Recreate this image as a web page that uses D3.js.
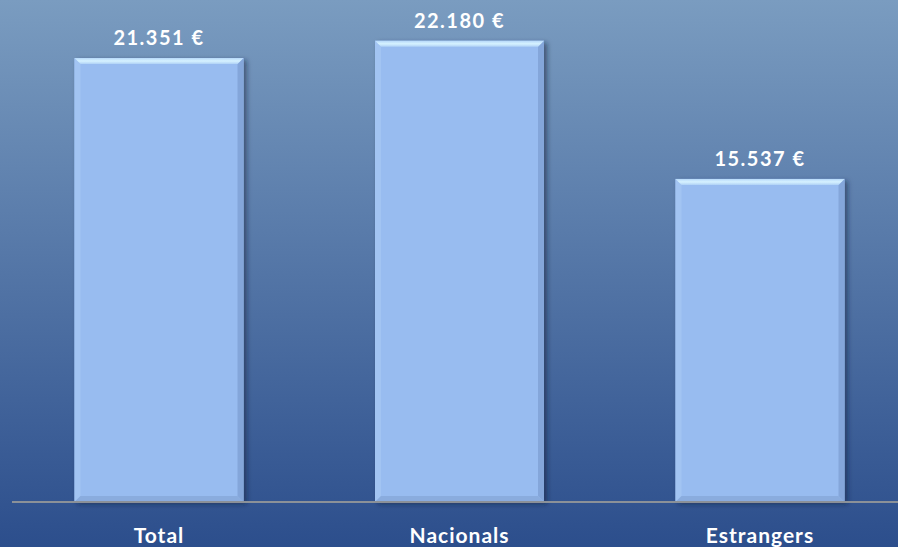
<!DOCTYPE html>
<html><head><meta charset="utf-8">
<script src="https://cdn.jsdelivr.net/npm/d3@7"></script>
<style>html,body{margin:0;padding:0;overflow:hidden;}svg{display:block;}</style>
</head><body>
<svg id="c" width="898" height="547"></svg>
<script>
const categories = ["Total", "Nacionals", "Estrangers"];
const values = [21351, 22180, 15537];
const valueLabels = ["21.351 €", "22.180 €", "15.537 €"];

const W = 898, H = 547;
const svg = d3.select("#c");
const defs = svg.append("defs");
const bg = defs.append("linearGradient").attr("id","bg").attr("x1",0).attr("y1",0).attr("x2",0).attr("y2",1);
bg.append("stop").attr("offset","0%").attr("stop-color","#7a9cc0");
bg.append("stop").attr("offset","100%").attr("stop-color","#2c4e8c");
const f = defs.append("filter").attr("id","sh").attr("x","-20%").attr("y","-20%").attr("width","140%").attr("height","140%");
f.append("feDropShadow").attr("dx",3).attr("dy",2).attr("stdDeviation",2.5).attr("flood-color","#0a1a3a").attr("flood-opacity",0.55);
const tg = defs.append("linearGradient").attr("id","tb").attr("x1",0).attr("y1",0).attr("x2",0).attr("y2",1);
tg.append("stop").attr("offset","0%").attr("stop-color","#b6d8fa");
tg.append("stop").attr("offset","50%").attr("stop-color","#d6f2ff");
tg.append("stop").attr("offset","100%").attr("stop-color","#b0d2f6");

svg.append("rect").attr("width",W).attr("height",H).attr("fill","url(#bg)");

const baseY = 502;
const x = d3.scaleBand().domain(categories).range([9, 910]).paddingInner(0.4376).paddingOuter(0.218);
const y = d3.scaleLinear().domain([0, 21351]).range([baseY, 58]);

const data = categories.map((c,i)=>({c, v: values[i], l: valueLabels[i]}));
const b = 6;
const g = svg.selectAll("g.bar").data(data).join("g").attr("class","bar");
g.append("rect").attr("x",d=>x(d.c)).attr("y",d=>y(d.v)).attr("width",x.bandwidth()).attr("height",d=>baseY-y(d.v))
  .attr("fill","#98bcf0").attr("filter","url(#sh)");
g.append("polygon").attr("points",d=>{const x0=x(d.c),y0=y(d.v);return [[x0,y0],[x0+b,y0+b],[x0+b,baseY-b],[x0,baseY]].join(" ");}).attr("fill","#a2c4f2");
g.append("polygon").attr("points",d=>{const x1=x(d.c)+x.bandwidth(),y0=y(d.v);return [[x1,y0],[x1-b,y0+b],[x1-b,baseY-b],[x1,baseY]].join(" ");}).attr("fill","#84a6da");
g.append("polygon").attr("points",d=>{const x0=x(d.c),x1=x0+x.bandwidth();return [[x0,baseY],[x0+b,baseY-b],[x1-b,baseY-b],[x1,baseY]].join(" ");}).attr("fill","#8aacde");
g.append("polygon").attr("points",d=>{const x0=x(d.c),x1=x0+x.bandwidth(),y0=y(d.v);return [[x0,y0],[x1,y0],[x1-b,y0+b],[x0+b,y0+b]].join(" ");}).attr("fill","url(#tb)");

svg.append("line").attr("x1",12).attr("x2",W).attr("y1",baseY).attr("y2",baseY).attr("stroke","#8b9198").attr("stroke-width",2);

g.append("text").attr("x",d=>x(d.c)+x.bandwidth()/2).attr("y",d=>y(d.v)-13).attr("text-anchor","middle")
  .attr("fill","#ffffff").attr("font-family","Lato, 'Open Sans', sans-serif").attr("font-weight","bold")
  .attr("font-size",20).attr("letter-spacing",1.5).text(d=>d.l);

g.append("text").attr("x",d=>x(d.c)+x.bandwidth()/2).attr("y",543).attr("text-anchor","middle")
  .attr("fill","#ffffff").attr("font-family","Lato, 'Open Sans', sans-serif").attr("font-weight","bold")
  .attr("font-size",21).attr("letter-spacing",1).text(d=>d.c);
</script>
</body></html>
